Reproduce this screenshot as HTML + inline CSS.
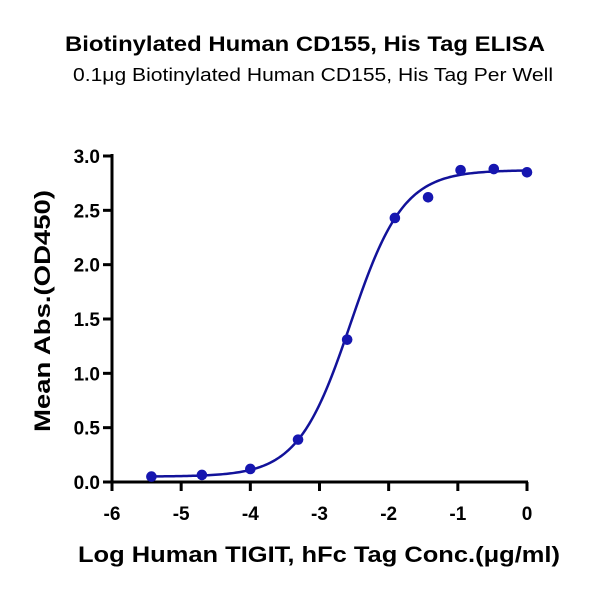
<!DOCTYPE html>
<html><head><meta charset="utf-8"><style>
body{margin:0;background:#fff;}
svg text{font-family:"Liberation Sans","DejaVu Sans",sans-serif;fill:#000;}
</style></head><body>
<svg width="600" height="591" viewBox="0 0 600 591">
<text x="305" y="51" text-anchor="middle" font-size="21" font-weight="bold" textLength="480" lengthAdjust="spacingAndGlyphs">Biotinylated Human CD155, His Tag ELISA</text>
<text x="313" y="81" text-anchor="middle" font-size="18" textLength="480" lengthAdjust="spacingAndGlyphs">0.1μg Biotinylated Human CD155, His Tag Per Well</text>
<g id="axes"></g>
<g id="marks"></g>
<text x="319" y="562" text-anchor="middle" font-size="22" font-weight="bold" textLength="482" lengthAdjust="spacingAndGlyphs">Log Human TIGIT, hFc Tag Conc.(μg/ml)</text>
<text transform="translate(50,311) rotate(-90)" text-anchor="middle" font-size="22" font-weight="bold" textLength="242" lengthAdjust="spacingAndGlyphs">Mean Abs.(OD450)</text>
</svg>
<script>
const xValues=[-5.43,-4.7,-4.0,-3.31,-2.6,-1.91,-1.43,-0.96,-0.48,0];
const yValues=[0.05,0.065,0.12,0.39,1.31,2.43,2.62,2.87,2.88,2.85];
const xTicks=[-6,-5,-4,-3,-2,-1,0];
const yTicks=[0,0.5,1,1.5,2,2.5,3];
const yTickLabels=["0.0","0.5","1.0","1.5","2.0","2.5","3.0"];
const fitBottom=0.05, fitTop=2.87, fitLogEC50=-2.55, fitHill=1.14;
const ns="http://www.w3.org/2000/svg";
const X0=112,X1=527,Y0=482,Y1=156;
const sx=v=>X0+(v-(-6))/6*(X1-X0);
const sy=v=>Y0-(v/3)*(Y0-Y1);
function mk(t,a,p){const e=document.createElementNS(ns,t);for(const k in a)e.setAttribute(k,a[k]);p.appendChild(e);return e;}
const ax=document.getElementById('axes'),mg=document.getElementById('marks');
let l=mk('line',{x1:X0,y1:Y1-2,x2:X0,y2:Y0+1,stroke:'#000','stroke-width':3},ax);


l=mk('line',{x1:X0-1,y1:Y0,x2:X1+1,y2:Y0,stroke:'#000','stroke-width':3},ax);


xTicks.forEach(v=>{
 const t=mk('line',{x1:sx(v),y1:Y0,x2:sx(v),y2:Y0+9,stroke:'#000','stroke-width':3},ax);
 
 
 const tx=mk('text',{x:sx(v),y:Y0+38,'text-anchor':'middle','font-size':19,'font-weight':'bold'},ax);
 tx.textContent=String(v);
 
 
});
yTicks.forEach((v,i)=>{
 const t=mk('line',{x1:X0-9,y1:sy(v),x2:X0,y2:sy(v),stroke:'#000','stroke-width':3},ax);
 
 
 const tx=mk('text',{x:X0-12,y:sy(v)+7,'text-anchor':'end','font-size':19,'font-weight':'bold'},ax);
 tx.textContent=yTickLabels[i];
 
 
});
let d='';
const xmin=Math.min(...xValues),xmax=Math.max(...xValues);
for(let i=0;i<=200;i++){const x=xmin+(xmax-xmin)*i/200;
 const y=fitBottom+(fitTop-fitBottom)/(1+Math.pow(10,(fitLogEC50-x)*fitHill));
 d+=(i?'L':'M')+sx(x).toFixed(2)+','+sy(y).toFixed(2);}
const p=mk('path',{d:d,fill:'none',stroke:'#12129a','stroke-width':2.5},mg);


xValues.forEach((x,i)=>{
 const c=mk('circle',{cx:sx(x),cy:sy(yValues[i]),r:5.3,fill:'#1616b0'},mg);
 
 
});
</script>
</body></html>
